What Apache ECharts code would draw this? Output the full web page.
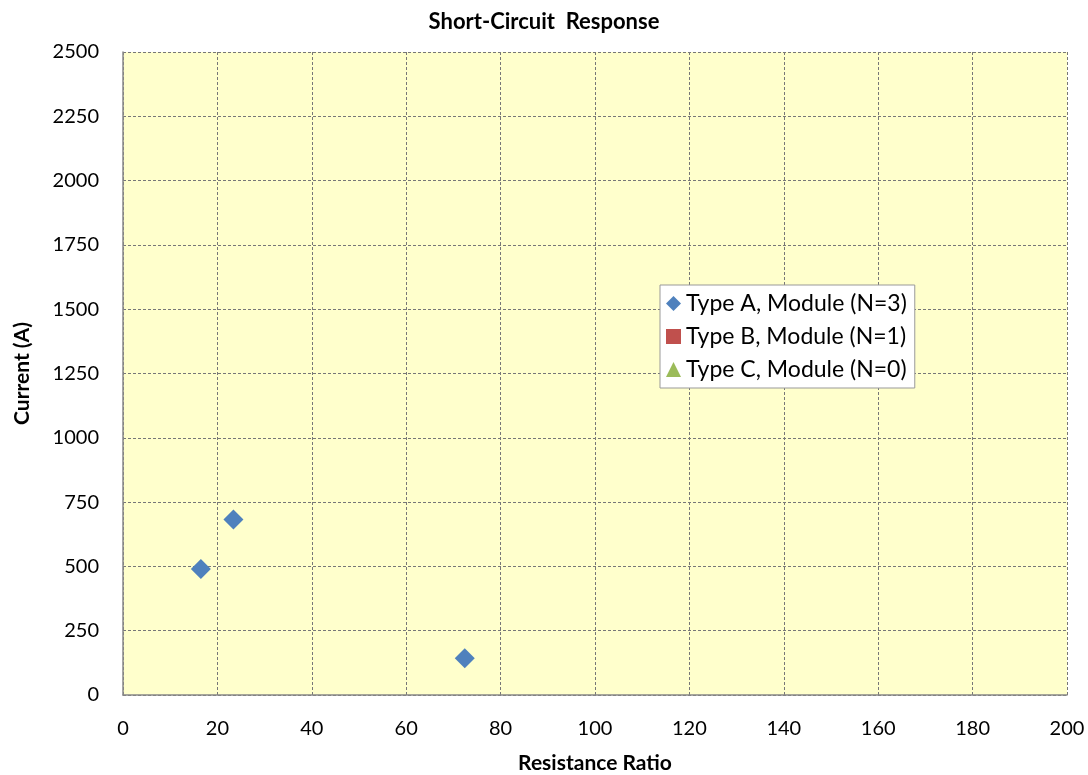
<!DOCTYPE html>
<html><head><meta charset="utf-8">
<script src="https://cdn.jsdelivr.net/npm/echarts@6/dist/echarts.min.js"></script>
<style>html,body{margin:0;padding:0;background:#fff}#c{width:1088px;height:775px}</style>
</head><body><div id="c"></div>
<script>
const seriesNames = ['Type A, Module (N=3)', 'Type B, Module (N=1)', 'Type C, Module (N=0)'];
const typeA = [[16.5, 490], [23.4, 682], [72.4, 143]];
const typeB = [];
const typeC = [];
const xTicks = [0, 200, 20];
const yTicks = [0, 2500, 250];

const font = 'Lato, "Open Sans", sans-serif';
const chart = echarts.init(document.getElementById('c'));
chart.setOption({
  animation: false,
  title: { text: 'Short-Circuit  Response', left: 'center', top: 6,
    textStyle: { fontFamily: font, fontSize: 22, fontWeight: 'bold', color: '#000' } },
  legend: {
    orient: 'vertical', left: 660, top: 285,
    backgroundColor: '#fff', borderColor: '#999', borderWidth: 1,
    padding: [7, 8, 7, 6], itemGap: 10, itemWidth: 15, itemHeight: 15,
    textStyle: { fontFamily: font, fontSize: 23, color: '#000' },
    data: [
      { name: seriesNames[0], icon: 'diamond' },
      { name: seriesNames[1], icon: 'rect' },
      { name: seriesNames[2], icon: 'triangle' }
    ]
  },
  grid: { left: 123, right: 21, top: 52, bottom: 80, show: true, backgroundColor: '#FFFFCC', borderWidth: 0,
    containLabel: false, outerBoundsMode: 'none' },
  xAxis: {
    type: 'value', min: xTicks[0], max: xTicks[1], interval: xTicks[2],
    name: 'Resistance Ratio', nameLocation: 'middle', nameGap: 58,
    nameTextStyle: { fontFamily: font, fontSize: 21, fontWeight: 'bold', color: '#000' },
    axisLine: { show: true, lineStyle: { color: '#888', width: 1.5 } },
    axisTick: { show: false },
    axisLabel: { fontFamily: font, fontSize: 20, color: '#000', margin: 24 },
    splitLine: { show: true, lineStyle: { color: '#777', type: [3, 2], width: 1 } }
  },
  yAxis: {
    type: 'value', min: yTicks[0], max: yTicks[1], interval: yTicks[2],
    name: 'Current (A)', nameLocation: 'middle', nameGap: 90,
    nameTextStyle: { fontFamily: font, fontSize: 21, fontWeight: 'bold', color: '#000' },
    axisLine: { show: true, lineStyle: { color: '#888', width: 1.5 } },
    axisTick: { show: false },
    axisLabel: { fontFamily: font, fontSize: 20, color: '#000', margin: 24, formatter: v => String(v) },
    splitLine: { show: true, lineStyle: { color: '#777', type: [3, 2], width: 1 } }
  },
  series: [
    { name: seriesNames[0], type: 'scatter', symbol: 'diamond', symbolSize: 20, itemStyle: { color: '#4F81BD', opacity: 1 }, data: typeA },
    { name: seriesNames[1], type: 'scatter', symbol: 'rect', symbolSize: 14, itemStyle: { color: '#C0504D', opacity: 1 }, data: typeB },
    { name: seriesNames[2], type: 'scatter', symbol: 'triangle', symbolSize: 14, itemStyle: { color: '#9BBB59', opacity: 1 }, data: typeC }
  ]
});
</script></body></html>
